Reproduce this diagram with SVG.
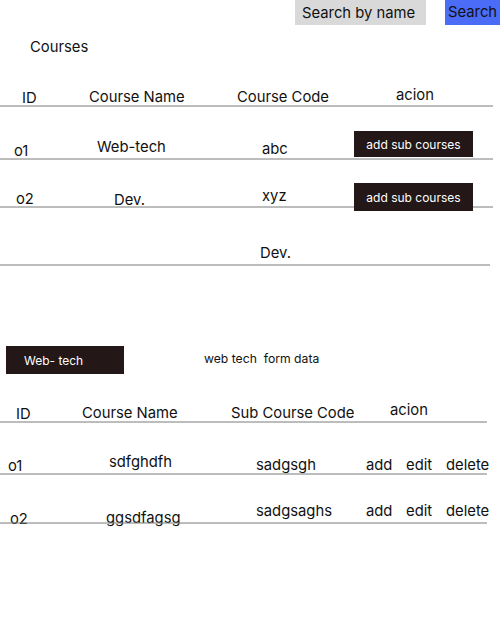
<svg xmlns="http://www.w3.org/2000/svg" width="504" height="622" viewBox="0 0 504 622">
<style>
text{font-family:Inter,"Noto Sans","Liberation Sans",sans-serif;fill:#111;font-size:14.8px}
.sm{font-size:12.2px;white-space:pre}
.btn{fill:#231717}
.bt{fill:#fff;font-size:12px}
line{stroke:#7a7a7a;stroke-width:1}
</style>
<rect width="504" height="622" fill="#fff"/>
<g id="search">
<rect x="295" y="0" width="131" height="25" fill="#d9d9d9"/>
<text x="302" y="18">Search by name</text>
</g>
<g id="search-btn">
<rect x="445" y="0" width="55" height="25" fill="#4a6cf7"/>
<text x="448" y="17">Search</text>
</g>
<g id="title"><text x="30" y="52">Courses</text></g>
<g id="table1">
<text x="22" y="103">ID</text>
<text x="89" y="102">Course Name</text>
<text x="237" y="102">Course Code</text>
<text x="396" y="100">acion</text>
<line x1="0" y1="106" x2="493" y2="106"/>
<text x="14" y="156">o1</text>
<text x="97" y="152">Web-tech</text>
<text x="262" y="154">abc</text>
<line x1="0" y1="159" x2="493" y2="159"/>
<text x="16" y="204">o2</text>
<text x="114" y="205">Dev.</text>
<text x="262" y="201">xyz</text>
<line x1="0" y1="207" x2="493" y2="207"/>
<text x="260" y="258">Dev.</text>
<line x1="0" y1="265" x2="490" y2="265"/>
</g>
<g id="btn1"><rect class="btn" x="354" y="131" width="119" height="26"/><text class="bt" x="413.5" y="149" text-anchor="middle">add sub courses</text></g>
<g id="btn2"><rect class="btn" x="354" y="183" width="119" height="28"/><text class="bt" x="413.5" y="202" text-anchor="middle">add sub courses</text></g>
<g id="webtech-btn"><rect class="btn" x="6" y="346" width="118" height="28"/><text class="bt" x="24" y="365">Web- tech</text></g>
<g id="form-label"><text class="sm" x="204" y="363" xml:space="preserve">web tech  form data</text></g>
<g id="table2">
<text x="16" y="419">ID</text>
<text x="82" y="418">Course Name</text>
<text x="231" y="418">Sub Course Code</text>
<text x="390" y="415">acion</text>
<line x1="0" y1="422" x2="487" y2="422"/>
<text x="8" y="471">o1</text>
<text x="109" y="467">sdfghdfh</text>
<text x="256" y="470">sadgsgh</text>
<text x="366" y="470">add</text>
<text x="406" y="470">edit</text>
<text x="446" y="470">delete</text>
<line x1="0" y1="474" x2="487" y2="474"/>
<text x="10" y="524">o2</text>
<text x="106" y="523">ggsdfagsg</text>
<text x="256" y="516">sadgsaghs</text>
<text x="366" y="516">add</text>
<text x="406" y="516">edit</text>
<text x="446" y="516">delete</text>
<line x1="0" y1="523" x2="487" y2="523"/>
</g>
</svg>
